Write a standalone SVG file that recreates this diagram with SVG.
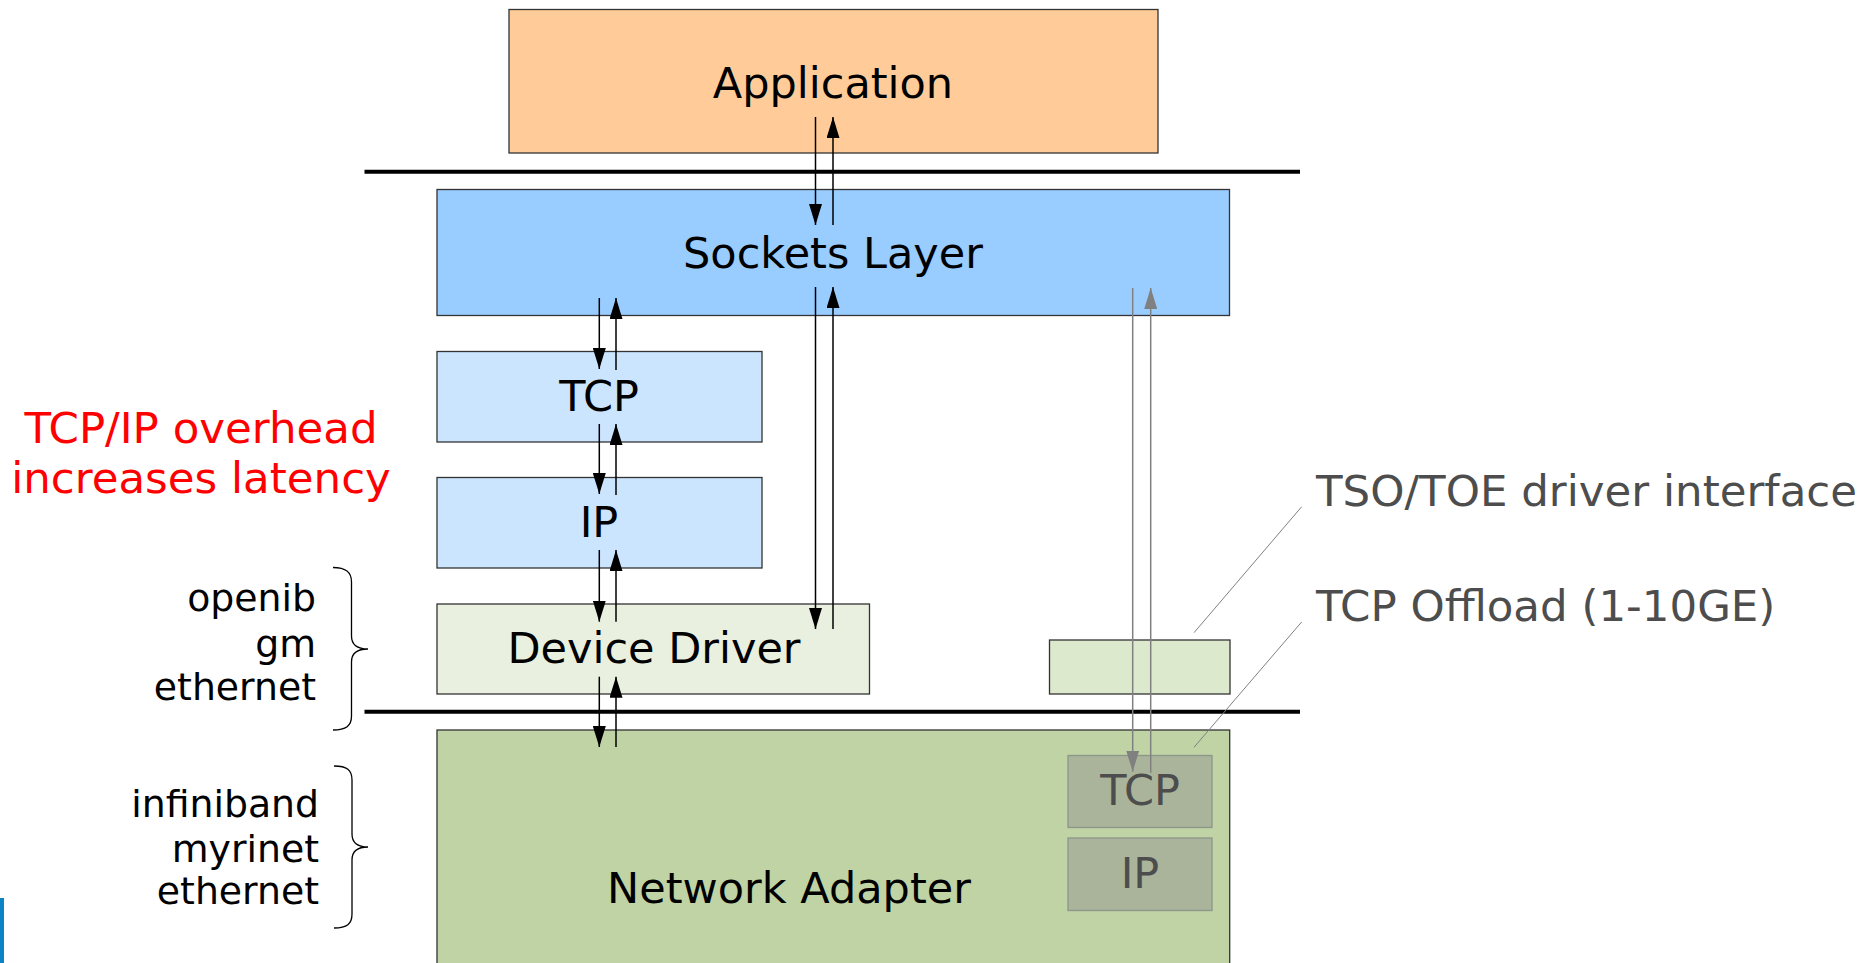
<svg xmlns="http://www.w3.org/2000/svg" width="1874" height="963" viewBox="0 0 1874 963">
<style>
  text { font-family: "DejaVu Sans", "Liberation Sans", sans-serif; }
  .box { stroke: #333333; stroke-width: 1.3; }
  .lbl { font-size: 43px; fill: #000000; text-anchor: middle; }
  .glbl { font-size: 43px; fill: #4d4d4d; text-anchor: middle; }
  .side { font-size: 37.8px; fill: #000000; text-anchor: end; }
  .red { font-size: 43.5px; fill: #ff0000; text-anchor: middle; }
  .note { font-size: 43.5px; fill: #4d4d4d; }
  .arr { stroke: #000000; stroke-width: 1.5; fill: none; marker-end: url(#ah); }
  .garr { stroke: #808080; stroke-width: 1.5; fill: none; marker-end: url(#gah); }
  .lead { stroke: #808080; stroke-width: 1; fill: none; }
  .sep { stroke: #000000; stroke-width: 4; }
  .brace { stroke: #000000; stroke-width: 1.3; fill: none; }
</style>
<defs>
  <marker id="ah" viewBox="0 0 21 13" refX="21" refY="6.5" markerWidth="21" markerHeight="13" markerUnits="userSpaceOnUse" orient="auto">
    <path d="M0,0 L21,6.5 L0,13 Z" fill="#000000"/>
  </marker>
  <marker id="gah" viewBox="0 0 21 13" refX="21" refY="6.5" markerWidth="21" markerHeight="13" markerUnits="userSpaceOnUse" orient="auto">
    <path d="M0,0 L21,6.5 L0,13 Z" fill="#808080"/>
  </marker>
</defs>
<rect width="1874" height="963" fill="#ffffff"/>

<g id="separators">
  <line class="sep" x1="364.5" y1="171.7" x2="1300" y2="171.7"/>
  <line class="sep" x1="364.5" y1="711.7" x2="1300" y2="711.7"/>
</g>

<g id="application">
  <rect class="box" x="509" y="9.5" width="649" height="143.5" fill="#ffcc99"/>
  <text class="lbl" x="833" y="97.7">Application</text>
</g>
<g id="sockets">
  <rect class="box" x="437" y="189.5" width="792.5" height="126" fill="#99ccff"/>
  <text class="lbl" x="833" y="267.7">Sockets Layer</text>
</g>
<g id="tcp">
  <rect class="box" x="437" y="351.5" width="325" height="90.5" fill="#cce5ff"/>
  <text class="lbl" x="599" y="411">TCP</text>
</g>
<g id="ip">
  <rect class="box" x="437" y="477.5" width="325" height="90.5" fill="#cce5ff"/>
  <text class="lbl" x="599" y="536.7">IP</text>
</g>
<g id="device-driver">
  <rect class="box" x="437" y="604" width="432.5" height="90" fill="#e9f0df"/>
  <text class="lbl" x="654" y="663">Device Driver</text>
</g>
<g id="toe-interface">
  <rect class="box" x="1049.5" y="640" width="180.5" height="54" fill="#dde9cd"/>
</g>
<g id="network-adapter">
  <rect class="box" x="437" y="730" width="792.7" height="245" fill="#bfd3a5"/>
  <text class="lbl" x="789" y="903">Network Adapter</text>
</g>
<g id="offload-tcp">
  <rect x="1068" y="755.5" width="144" height="72" fill="#aab49b" stroke="#8e968a" stroke-width="1.3"/>
  <text class="glbl" x="1140" y="805">TCP</text>
</g>
<g id="offload-ip">
  <rect x="1068" y="838" width="144" height="72.5" fill="#aab49b" stroke="#8e968a" stroke-width="1.3"/>
  <text class="glbl" x="1140" y="888">IP</text>
</g>

<g id="annotations">
  <text class="red" x="201" y="443.3">TCP/IP overhead</text>
  <text class="red" x="201" y="493.3">increases latency</text>
  <text class="side" x="316" y="611">openib</text>
  <text class="side" x="316" y="656.7">gm</text>
  <text class="side" x="316" y="700">ethernet</text>
  <path class="brace" d="M333,567.5 C346,567.5 351.5,572 351.5,582 L351.5,636 C351.5,644 357,649 368,649 C357,649 351.5,654 351.5,662 L351.5,716 C351.5,726 346,730 333,730"/>
  <text class="side" x="319" y="816.7">infiniband</text>
  <text class="side" x="319" y="861.7">myrinet</text>
  <text class="side" x="319" y="904">ethernet</text>
  <path class="brace" d="M334,766 C347,766 352,770 352,780 L352,834 C352,842 357,847 368,847 C357,847 352,852 352,860 L352,914 C352,924 347,928 334,928"/>
  <text class="note" x="1316" y="505.7">TSO/TOE driver interface</text>
  <text class="note" x="1316" y="621">TCP Offload (1-10GE)</text>
  <rect x="0" y="898" width="4" height="65" fill="#0a84c6"/>
</g>

<g id="connectors">
  <line class="arr" x1="815.5" y1="117" x2="815.5" y2="225"/>
  <line class="arr" x1="833" y1="225" x2="833" y2="117"/>
  <line class="arr" x1="599.3" y1="298" x2="599.3" y2="369"/>
  <line class="arr" x1="616" y1="370" x2="616" y2="298"/>
  <line class="arr" x1="599.3" y1="424" x2="599.3" y2="494"/>
  <line class="arr" x1="616" y1="495" x2="616" y2="424"/>
  <line class="arr" x1="599.3" y1="550" x2="599.3" y2="621.7"/>
  <line class="arr" x1="616" y1="621.7" x2="616" y2="550"/>
  <line class="arr" x1="599.3" y1="676.7" x2="599.3" y2="747"/>
  <line class="arr" x1="616" y1="747" x2="616" y2="676.7"/>
  <line class="arr" x1="815.5" y1="287" x2="815.5" y2="629"/>
  <line class="arr" x1="833" y1="629" x2="833" y2="287"/>
  <line class="garr" x1="1132.7" y1="288" x2="1132.7" y2="771.7"/>
  <line class="garr" x1="1150.7" y1="772.7" x2="1150.7" y2="288"/>
  <line class="lead" x1="1301.6" y1="506.8" x2="1194" y2="632.7"/>
  <line class="lead" x1="1301.6" y1="622" x2="1194" y2="747.3"/>
</g>
</svg>
